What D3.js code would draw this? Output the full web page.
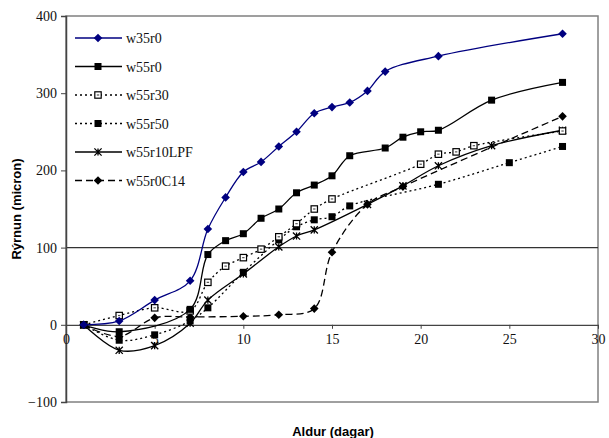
<!DOCTYPE html>
<html>
<head>
<meta charset="utf-8">
<script src="https://cdn.jsdelivr.net/npm/d3@7"></script>
<style>
  body { margin: 0; background: #fff; }
  svg { display: block; }
</style>
</head>
<body>
<script>
// ---- data ----
var xTicks = [0, 5, 10, 15, 20, 25, 30];
var yTicks = [-100, 0, 100, 200, 300, 400];

var w35r0X = [1, 3, 5, 7, 8, 9, 10, 11, 12, 13, 14, 15, 16, 17, 18, 21, 28];
var w35r0Y = [0, 5, 32, 57, 124, 165, 198, 211, 231, 250, 274, 282, 288, 303, 328, 348, 377];

var w55r0X = [1, 3, 7, 8, 9, 10, 11, 12, 13, 14, 15, 16, 18, 19, 20, 21, 24, 28];
var w55r0Y = [0, -9, 20, 91, 109, 118, 138, 150, 171, 181, 193, 219, 229, 243, 250, 252, 291, 314];

var w55r30X = [1, 3, 5, 7, 8, 9, 10, 11, 12, 13, 14, 15, 20, 21, 22, 23, 28];
var w55r30Y = [0, 12, 22, 18, 55, 76, 87, 98, 114, 131, 150, 163, 208, 221, 224, 232, 251];

var w55r50X = [1, 3, 5, 7, 8, 10, 12, 13, 14, 15, 16, 21, 25, 28];
var w55r50Y = [0, -20, -13, 5, 22, 68, 110, 127, 136, 140, 154, 182, 210, 231];

var w55r10LPFX = [1, 3, 5, 7, 8, 10, 12, 13, 14, 17, 19, 21, 24, 28];
var w55r10LPFY = [0, -33, -27, 2, 32, 66, 101, 115, 123, 156, 180, 206, 232, 252];

var w55r0C14X = [1, 3, 5, 7, 10, 12, 14, 15, 17, 19, 28];
var w55r0C14Y = [0, -15, 9, 10, 11, 13, 21, 94, 156, 179, 270];

var seriesNames = ['w35r0', 'w55r0', 'w55r30', 'w55r50', 'w55r10LPF', 'w55r0C14'];
var seriesX = [w35r0X, w55r0X, w55r30X, w55r50X, w55r10LPFX, w55r0C14X];
var seriesY = [w35r0Y, w55r0Y, w55r30Y, w55r50Y, w55r10LPFY, w55r0C14Y];
var seriesColor = ['#000080', '#000', '#000', '#000', '#000', '#000'];
var seriesDash = [null, null, '2,3', '2,3', null, '7,4'];
var seriesMarker = ['diamond', 'square', 'openSquare', 'square', 'star', 'diamond'];

// ---- layout ----
var W = 609, H = 438;
var svg = d3.select('body').append('svg').attr('width', W).attr('height', H);

var x = d3.scaleLinear().domain([0, 30]).range([66, 598]);
var y = d3.scaleLinear().domain([-100, 400]).range([402, 16]);

// plot frame
svg.append('rect')
  .attr('x', x(0)).attr('y', y(400))
  .attr('width', x(30) - x(0)).attr('height', y(-100) - y(400))
  .attr('fill', 'none').attr('stroke', '#808080').attr('stroke-width', 1.5);

// grid line at 100
svg.append('line').attr('x1', x(0)).attr('x2', x(30)).attr('y1', y(100)).attr('y2', y(100))
  .attr('stroke', '#333').attr('stroke-width', 1.2);

// y axis
var yAxis = d3.axisLeft(y).tickValues(yTicks).tickSize(5).tickPadding(4);
var gy = svg.append('g').attr('transform', 'translate(' + x(0) + ',0)').call(yAxis);
gy.select('.domain').attr('stroke', '#444').attr('stroke-width', 1.5);
gy.selectAll('.tick line').attr('stroke', '#444');
gy.selectAll('text').attr('font-family', 'Liberation Serif').attr('font-size', 14).attr('fill', '#111');

// x axis on the zero line
var xAxis = d3.axisBottom(x).tickValues(xTicks).tickSize(4).tickPadding(5).tickSizeOuter(0);
var gx = svg.append('g').attr('transform', 'translate(0,' + y(0) + ')').call(xAxis);
gx.select('.domain').attr('stroke', '#444').attr('stroke-width', 1.3);
gx.selectAll('.tick line').attr('stroke', '#444');
gx.selectAll('text').attr('font-family', 'Liberation Serif').attr('font-size', 14).attr('fill', '#111');

// axis titles
svg.append('text').attr('x', 333).attr('y', 436).attr('text-anchor', 'middle')
  .attr('font-family', 'Liberation Sans').attr('font-weight', 'bold').attr('font-size', 13)
  .text('Aldur (dagar)');
svg.append('text').attr('transform', 'translate(21,209) rotate(-90)').attr('text-anchor', 'middle')
  .attr('font-family', 'Liberation Sans').attr('font-weight', 'bold').attr('font-size', 13)
  .text('Rýrnun (micron)');

// ---- markers ----
function drawMarker(g, type, cx, cy, color) {
  if (type === 'diamond') {
    var r = 4.3;
    g.append('path')
      .attr('d', 'M' + cx + ',' + (cy - r) + 'L' + (cx + r) + ',' + cy + 'L' + cx + ',' + (cy + r) + 'L' + (cx - r) + ',' + cy + 'Z')
      .attr('fill', color);
  } else if (type === 'square') {
    g.append('rect').attr('x', cx - 3.5).attr('y', cy - 3.5).attr('width', 7).attr('height', 7)
      .attr('fill', color);
  } else if (type === 'openSquare') {
    g.append('rect').attr('x', cx - 3.2).attr('y', cy - 3.2).attr('width', 6.4).attr('height', 6.4)
      .attr('fill', '#fff').attr('stroke', color).attr('stroke-width', 1.2);
    g.append('rect').attr('x', cx - 1.2).attr('y', cy - 0.6).attr('width', 2.4).attr('height', 1.2).attr('fill', '#555');
  } else if (type === 'star') {
    var s = 3.6;
    g.append('path')
      .attr('d', 'M' + (cx - s) + ',' + (cy - s) + 'L' + (cx + s) + ',' + (cy + s) +
                 'M' + (cx - s) + ',' + (cy + s) + 'L' + (cx + s) + ',' + (cy - s) +
                 'M' + cx + ',' + (cy - s) + 'L' + cx + ',' + (cy + s))
      .attr('stroke', color).attr('stroke-width', 1.3).attr('fill', 'none');
  }
}

// ---- series ----
var line = d3.line().x(function (d) { return x(d[0]); }).y(function (d) { return y(d[1]); })
  .curve(d3.curveCatmullRom.alpha(0.5));

// draw in reverse so that blue stays on top
for (var k = seriesNames.length - 1; k >= 0; k--) {
  var pts = seriesX[k].map(function (v, i) { return [v, seriesY[k][i]]; });
  var g = svg.append('g');
  var p = g.append('path').attr('d', line(pts)).attr('fill', 'none')
    .attr('stroke', seriesColor[k]).attr('stroke-width', 1.3);
  if (seriesDash[k]) p.attr('stroke-dasharray', seriesDash[k]);
  pts.forEach(function (d) { drawMarker(g, seriesMarker[k], x(d[0]), y(d[1]), seriesColor[k]); });
}

// ---- legend ----
var legY0 = 38, legStep = 28.5;
seriesNames.forEach(function (name, i) {
  var ly = legY0 + i * legStep;
  var g = svg.append('g');
  var l = g.append('line').attr('x1', 75).attr('x2', 122).attr('y1', ly).attr('y2', ly)
    .attr('stroke', seriesColor[i]).attr('stroke-width', 1.3);
  if (seriesDash[i]) l.attr('stroke-dasharray', seriesDash[i]);
  drawMarker(g, seriesMarker[i], 98, ly, seriesColor[i]);
  g.append('text').attr('x', 126).attr('y', ly + 5).attr('font-family', 'Liberation Serif')
    .attr('font-size', 14).attr('fill', '#111').text(name);
});
</script>
</body>
</html>
